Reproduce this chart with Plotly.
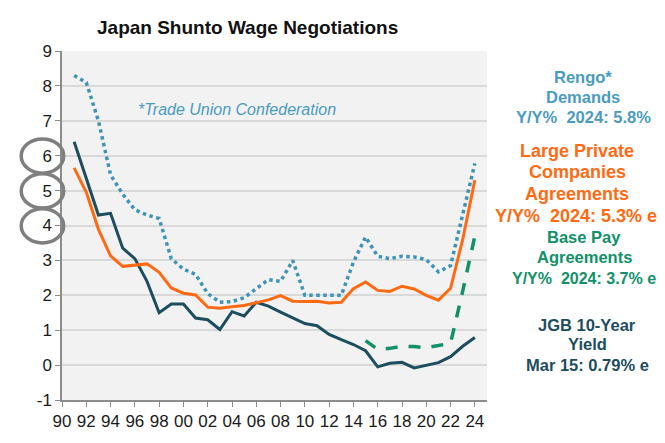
import plotly.graph_objects as go

# annual data, 1991-2024
years = list(range(1991, 2025))
rengo_demands = [8.3, 8.1, 7.0, 5.45, 4.9, 4.45, 4.3, 4.2, 3.05, 2.75, 2.6, 2.05,
                 1.8, 1.82, 1.93, 2.2, 2.45, 2.4, 3.0, 2.0, 2.0, 2.0, 2.0, 2.95,
                 3.67, 3.12, 3.05, 3.12, 3.1, 3.02, 2.67, 2.85, 4.3, 5.78]
large_private = [5.65, 4.95, 3.89, 3.13, 2.83, 2.86, 2.90, 2.66, 2.21, 2.06, 2.01, 1.66,
                 1.63, 1.67, 1.71, 1.79, 1.87, 1.99, 1.83, 1.82, 1.83, 1.78, 1.80, 2.19,
                 2.38, 2.14, 2.11, 2.26, 2.18, 2.00, 1.86, 2.20, 3.60, 5.30]
jgb_10y = [6.4, 5.35, 4.3, 4.35, 3.35, 3.05, 2.4, 1.5, 1.75, 1.75, 1.35, 1.3,
           1.02, 1.53, 1.41, 1.8, 1.69, 1.52, 1.36, 1.19, 1.13, 0.88, 0.73, 0.59,
           0.41, -0.05, 0.05, 0.08, -0.08, 0.0, 0.07, 0.24, 0.54, 0.79]
base_years = list(range(2015, 2025))
base_pay = [0.7, 0.45, 0.48, 0.54, 0.53, 0.5, 0.56, 0.63, 2.12, 3.7]

x_ticks = list(range(1990, 2025, 2))
x_labels = [str(y)[2:] for y in x_ticks]
y_ticks = list(range(-1, 10))
y_labels = [str(v) for v in y_ticks]
circled = [6, 5, 4]

BLUE = "#4a9bbd"
ORANGE = "#ff6a13"
TEAL = "#1d4d5e"
GREEN = "#11906a"
FONT = "Liberation Sans, Arial, sans-serif"
NB = "\u00a0 "

# plot area in px (the page body adds an 8px offset)
PL, PT, PW, PH = 54, 43, 425, 352

fig = go.Figure()
fig.add_trace(go.Scatter(x=years, y=rengo_demands, mode="lines",
                         line=dict(color="#3f93b6", width=3.5, dash="dot")))
fig.add_trace(go.Scatter(x=base_years, y=base_pay, mode="lines",
                         line=dict(color=GREEN, width=3.5, dash="12px,11px")))
fig.add_trace(go.Scatter(x=years, y=jgb_10y, mode="lines",
                         line=dict(color=TEAL, width=3)))
fig.add_trace(go.Scatter(x=years, y=large_private, mode="lines",
                         line=dict(color=ORANGE, width=3)))

# grey rings round the 4-6 tick labels
for v in circled:
    fig.add_shape(type="circle", xref="paper", yref="y",
                  x0=-0.096, x1=0.004, y0=v - 0.5, y1=v + 0.48,
                  line=dict(color="#7f7f7f", width=3.5))

# side labels: (text, colour, size, centre x px, centre y px) in reference pixels
side = [
    ("Rengo*", BLUE, 16.5, 583, 77),
    ("Demands", BLUE, 16.5, 583, 97.5),
    ("Y/Y%" + NB + "2024: 5.8%", BLUE, 16.5, 583, 118),
    ("Large Private", ORANGE, 18, 577, 151.5),
    ("Companies", ORANGE, 18, 577, 173),
    ("Agreements", ORANGE, 18, 577, 195),
    ("Y/Y%" + NB + "2024: 5.3% e", ORANGE, 18, 576, 217),
    ("Base Pay", GREEN, 16.5, 584, 239),
    ("Agreements", GREEN, 16.5, 584, 259),
    ("Y/Y%" + NB + "2024: 3.7% e", GREEN, 16, 584, 280),
    ("JGB 10-Year", TEAL, 16.5, 587, 327),
    ("Yield", TEAL, 16.5, 587, 347),
    ("Mar 15: 0.79% e", TEAL, 16.5, 587, 368),
]
for text, col, size, px, py in side:
    fig.add_annotation(text="<b>" + text + "</b>", xref="paper", yref="paper",
                       x=(px - 62) / PW, y=(403 - py) / PH,
                       xanchor="center", yanchor="middle",
                       showarrow=False, align="center",
                       font=dict(family=FONT, size=size, color=col))

fig.add_annotation(text="<i>*Trade Union Confederation</i>", xref="paper", yref="paper",
                   x=(136 - 62) / PW, y=(403 - 110) / PH, xanchor="left", yanchor="middle",
                   showarrow=False,
                   font=dict(family=FONT, size=16, color=BLUE))

W, H = 657, 435
fig.update_layout(
    width=W, height=H,
    margin=dict(l=PL, r=W - PL - PW, t=PT, b=H - PT - PH),
    paper_bgcolor="white", plot_bgcolor="#f2f2f2",
    showlegend=False,
    title=dict(text="<b>Japan Shunto Wage Negotiations</b>", x=89 / W, xanchor="left",
               y=1 - 19.5 / H, yanchor="middle",
               font=dict(family=FONT, size=19, color="#111111")),
)
fig.update_xaxes(range=[1990, 2025], tickvals=x_ticks, ticktext=x_labels,
                 showgrid=False, zeroline=False, showline=True, linecolor="#8c8c8c",
                 linewidth=1.5, ticks="outside", ticklen=5, tickcolor="#8c8c8c",
                 tickfont=dict(family=FONT, size=17, color="#1a1a1a"))
fig.update_yaxes(range=[-1, 9], tickvals=y_ticks, ticktext=y_labels, showgrid=True,
                 gridcolor="#d9d9d9", gridwidth=1.5, zeroline=False, showline=True,
                 linecolor="#8c8c8c", linewidth=1.5, ticks="outside", ticklen=5,
                 tickcolor="#8c8c8c",
                 tickfont=dict(family=FONT, size=17, color="#1a1a1a"))

fig.write_html("out.html")
